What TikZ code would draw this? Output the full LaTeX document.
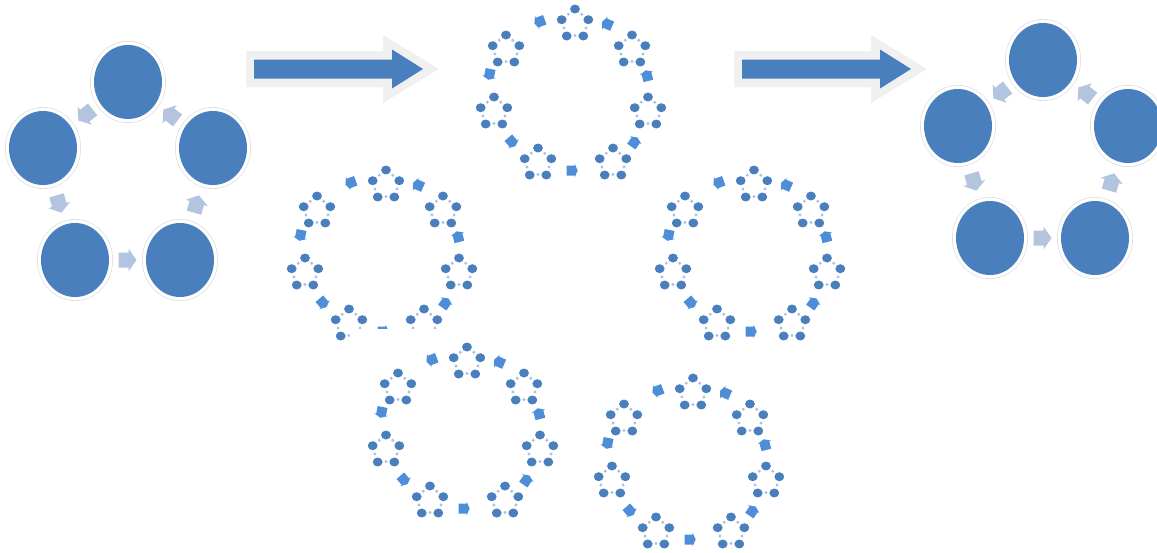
\documentclass[tikz,border=0pt]{standalone}
\usetikzlibrary{calc}
\definecolor{nodeblue}{HTML}{4A7FBD}
\definecolor{ringarrow}{HTML}{4E8DD8}
\definecolor{lightarrow}{HTML}{B3C4DF}
\definecolor{tinyarrow}{HTML}{A9BFE3}
\definecolor{glow}{HTML}{F0F0F0}
\definecolor{haloline}{HTML}{DDDDDD}
\tikzset{
  x=1pt, y=-1pt,
  pics/bigarr/.style={code={\fill[lightarrow] (-9,-7.5) -- (1,-7.5) -- (1,-11.5) -- (9,0) -- (1,11.5) -- (1,7.5) -- (-9,7.5) -- cycle;}},
  pics/ringarr/.style={code={\fill[ringarrow] (-5.6,-5) -- (2.2,-5) -- (2.2,-7) -- (5.4,0) -- (2.2,7) -- (2.2,5) -- (-5.6,5) -- cycle;}},
  cdot/.style={fill=nodeblue},
  tdot/.style={fill=tinyarrow},
}
\newcommand\bignode[2]{%
  \coordinate (#1) at #2;
  \fill[haloline] (#1) ellipse (38 and 41);
  \fill[white] (#1) ellipse (37.3 and 40.3);
  \fill[nodeblue] (#1) ellipse (34 and 37);
}
\newcommand\cluster[2]{%
  \begin{scope}[shift={#2}]
    \coordinate (#1) at (0,15);
    \fill[tdot] (-6.7,5.2) circle (1.6);
    \fill[tdot] (6.7,5.2) circle (1.6);
    \fill[tdot] (-11,19) circle (1.6);
    \fill[tdot] (11,19) circle (1.6);
    \fill[tdot] (0,26.5) circle (1.6);
    \fill[cdot] (0,0) ellipse (4.9 and 4.5);
    \fill[cdot] (-13.3,10.7) ellipse (4.9 and 4.5);
    \fill[cdot] (13.3,10.7) ellipse (4.9 and 4.5);
    \fill[cdot] (-8.3,27) ellipse (4.9 and 4.5);
    \fill[cdot] (8.3,27) ellipse (4.9 and 4.5);
  \end{scope}}
\newcommand\ring[2]{%
  \begin{scope}[shift={#2}]
    \cluster{#1t}{(0,0)}
    \cluster{#1ul}{(-69,26)}
    \cluster{#1ur}{(57,26)}
    \cluster{#1l}{(-81,88)}
    \cluster{#1r}{(73,88)}
    \cluster{#1bl}{(-37,139)}
    \cluster{#1br}{(38,139)}
    \pic[rotate=200] at (-35.5,12.7) {ringarr};
    \pic[rotate=258.6] at (-85.5,65.5) {ringarr};
    \pic[rotate=-49] at (-63,133) {ringarr};
    \pic[rotate=0] at (-2.7,161.5) {ringarr};
    \pic[rotate=55] at (59.5,133) {ringarr};
    \pic[rotate=104.5] at (72,66.5) {ringarr};
    \pic[rotate=156.7] at (32,15) {ringarr};
  \end{scope}}
\begin{document}
\begin{tikzpicture}
\useasboundingbox (0,0) rectangle (1157,552);
\clip (0,0) rectangle (1157,552);
% left cycle
\bignode{lt}{(128,82)}
\bignode{ll}{(43,148)}
\bignode{lr}{(213,148)}
\bignode{lbl}{(75,260)}
\bignode{lbr}{(180,260)}
\pic[rotate=217.8] at ($(lt)!.5!(ll)$) {bigarr};
\pic[rotate=-74] at ($(ll)!.5!(lbl)$) {bigarr};
\pic[rotate=0] at ($(lbl)!.5!(lbr)$) {bigarr};
\pic[rotate=73.6] at ($(lbr)!.5!(lr)$) {bigarr};
\pic[rotate=142.2] at ($(lr)!.5!(lt)$) {bigarr};
% right cycle
\bignode{rt}{(1043,60)}
\bignode{rl}{(958,126)}
\bignode{rr}{(1128,126)}
\bignode{rbl}{(990,238)}
\bignode{rbr}{(1095,238)}
\pic[rotate=217.8] at ($(rt)!.5!(rl)$) {bigarr};
\pic[rotate=-74] at ($(rl)!.5!(rbl)$) {bigarr};
\pic[rotate=0] at ($(rbl)!.5!(rbr)$) {bigarr};
\pic[rotate=73.6] at ($(rbr)!.5!(rr)$) {bigarr};
\pic[rotate=142.2] at ($(rr)!.5!(rt)$) {bigarr};
% big arrows
\foreach \dx in {0,488}{
  \begin{scope}[shift={(\dx,0)}]
  \fill[glow] (246,51) -- (383,51) -- (383,35) -- (439,69) -- (383,103) -- (383,87) -- (246,87) -- cycle;
  \fill[nodeblue] (254,59.5) -- (392,59.5) -- (392,49.5) -- (423,69) -- (392,88.5) -- (392,78.5) -- (254,78.5) -- cycle;
  \end{scope}}
% rings
\ring{a}{(575,9)}
\ring{b}{(386,170)}
\ring{c}{(754,170)}
\fill[white] (350,329) rectangle (585,552);
\ring{d}{(467,347)}
\ring{e}{(693,378)}
\end{tikzpicture}
\end{document}
